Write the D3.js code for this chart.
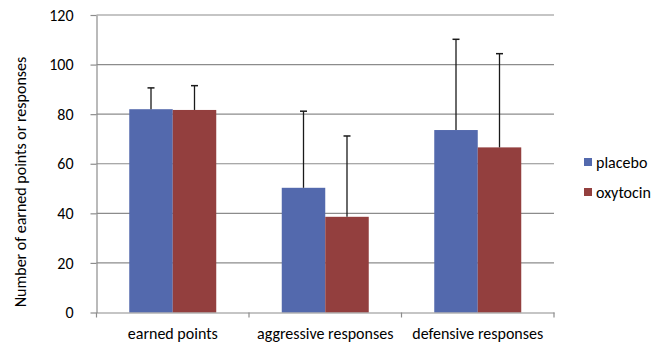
<!DOCTYPE html>
<html><head><meta charset="utf-8">
<script src="https://cdn.jsdelivr.net/npm/d3@7"></script>
<style>body{margin:0;background:#fff}svg{display:block}text{font-family:Carlito,Lato,"Open Sans",sans-serif;fill:#000}</style>
</head><body><svg id="c" width="670" height="344"></svg>
<script>
const categories = ["earned points", "aggressive responses", "defensive responses"];
const seriesNames = ["placebo", "oxytocin"];
const placebo = [82.0, 50.3, 73.6];
const oxytocin = [81.7, 38.6, 66.6];
const placeboErr = [8.6, 30.9, 36.6];
const oxytocinErr = [9.8, 32.6, 37.8];
const yTicks = [0, 20, 40, 60, 80, 100, 120];
const colors = ["#5369AD", "#933F3E"];

const svg = d3.select("#c");
const m = {l: 96.5, r: 554, t: 15, b: 312.5};
const x = d3.scaleBand().domain(categories).range([m.l, m.r]).paddingInner(0).paddingOuter(0);
const xs = d3.scaleBand().domain(seriesNames).range([0, x.bandwidth()]).paddingInner(0).paddingOuter(0.753);
const y = d3.scaleLinear().domain([0, 120]).range([m.b, m.t]);

// gridlines
svg.append("g").selectAll("line").data(yTicks.filter(d => d > 0)).join("line")
  .attr("x1", m.l).attr("x2", m.r).attr("y1", d => y(d)).attr("y2", d => y(d))
  .attr("stroke", "#8c8c8c").attr("stroke-width", 1.2);

const data = categories.map((c, i) => ({c, vals: [
  {s: "placebo", v: placebo[i], e: placeboErr[i]},
  {s: "oxytocin", v: oxytocin[i], e: oxytocinErr[i]}]}));

const g = svg.append("g").selectAll("g").data(data).join("g")
  .attr("transform", d => `translate(${x(d.c)},0)`);
g.selectAll("rect").data(d => d.vals).join("rect")
  .attr("x", d => xs(d.s)).attr("width", xs.bandwidth())
  .attr("y", d => y(d.v)).attr("height", d => y(0) - y(d.v))
  .attr("fill", (d, i) => colors[i]);
// error bars
g.selectAll("line.eb").data(d => d.vals).join("line").attr("class", "eb")
  .attr("x1", d => xs(d.s) + xs.bandwidth() / 2).attr("x2", d => xs(d.s) + xs.bandwidth() / 2)
  .attr("y1", d => y(d.v)).attr("y2", d => y(d.v + d.e))
  .attr("stroke", "#1a1a1a").attr("stroke-width", 1.3);
g.selectAll("line.cap").data(d => d.vals).join("line").attr("class", "cap")
  .attr("x1", d => xs(d.s) + xs.bandwidth() / 2 - 3.5).attr("x2", d => xs(d.s) + xs.bandwidth() / 2 + 3.5)
  .attr("y1", d => y(d.v + d.e)).attr("y2", d => y(d.v + d.e))
  .attr("stroke", "#1a1a1a").attr("stroke-width", 1.5);

const ff = "Carlito,Lato,'Open Sans',sans-serif";
// y axis
const ya = svg.append("g").attr("transform", `translate(${m.l},0)`)
  .call(d3.axisLeft(y).tickValues(yTicks).tickSize(6).tickPadding(17).tickSizeOuter(0));
ya.select(".domain").attr("stroke", "#8c8c8c").attr("stroke-width", 1.2);
ya.selectAll(".tick line").attr("stroke", "#8c8c8c").attr("stroke-width", 1.2);
ya.selectAll(".tick text").attr("font-size", "16px").attr("font-family", ff).attr("fill", "#000");

// x axis
const xa = svg.append("g").attr("transform", `translate(0,${m.b})`)
  .call(d3.axisBottom(x).tickSize(0).tickPadding(15).tickSizeOuter(0));
xa.select(".domain").attr("stroke", "#8c8c8c").attr("stroke-width", 1.2);
xa.selectAll(".tick text").attr("font-size", "16px").attr("font-family", ff).attr("fill", "#000");
// category boundary ticks
svg.append("g").selectAll("line").data(d3.range(categories.length + 1)).join("line")
  .attr("x1", i => m.l + i * x.step()).attr("x2", i => m.l + i * x.step())
  .attr("y1", m.b).attr("y2", m.b + 5).attr("stroke", "#8c8c8c").attr("stroke-width", 1.2);

// y label
svg.append("text").attr("transform", `translate(26,182) rotate(-90)`)
  .attr("text-anchor", "middle").attr("font-size", "16px").text("Number of earned points or responses");

// legend
const lg = svg.append("g").selectAll("g").data(seriesNames).join("g")
  .attr("transform", (d, i) => `translate(584,${158 + i * 30})`);
lg.append("rect").attr("width", 8).attr("height", 8).attr("fill", (d, i) => colors[i]);
lg.append("text").attr("x", 12).attr("y", 4).attr("dy", "0.35em").attr("font-size", "16px").text(d => d);
</script></body></html>
